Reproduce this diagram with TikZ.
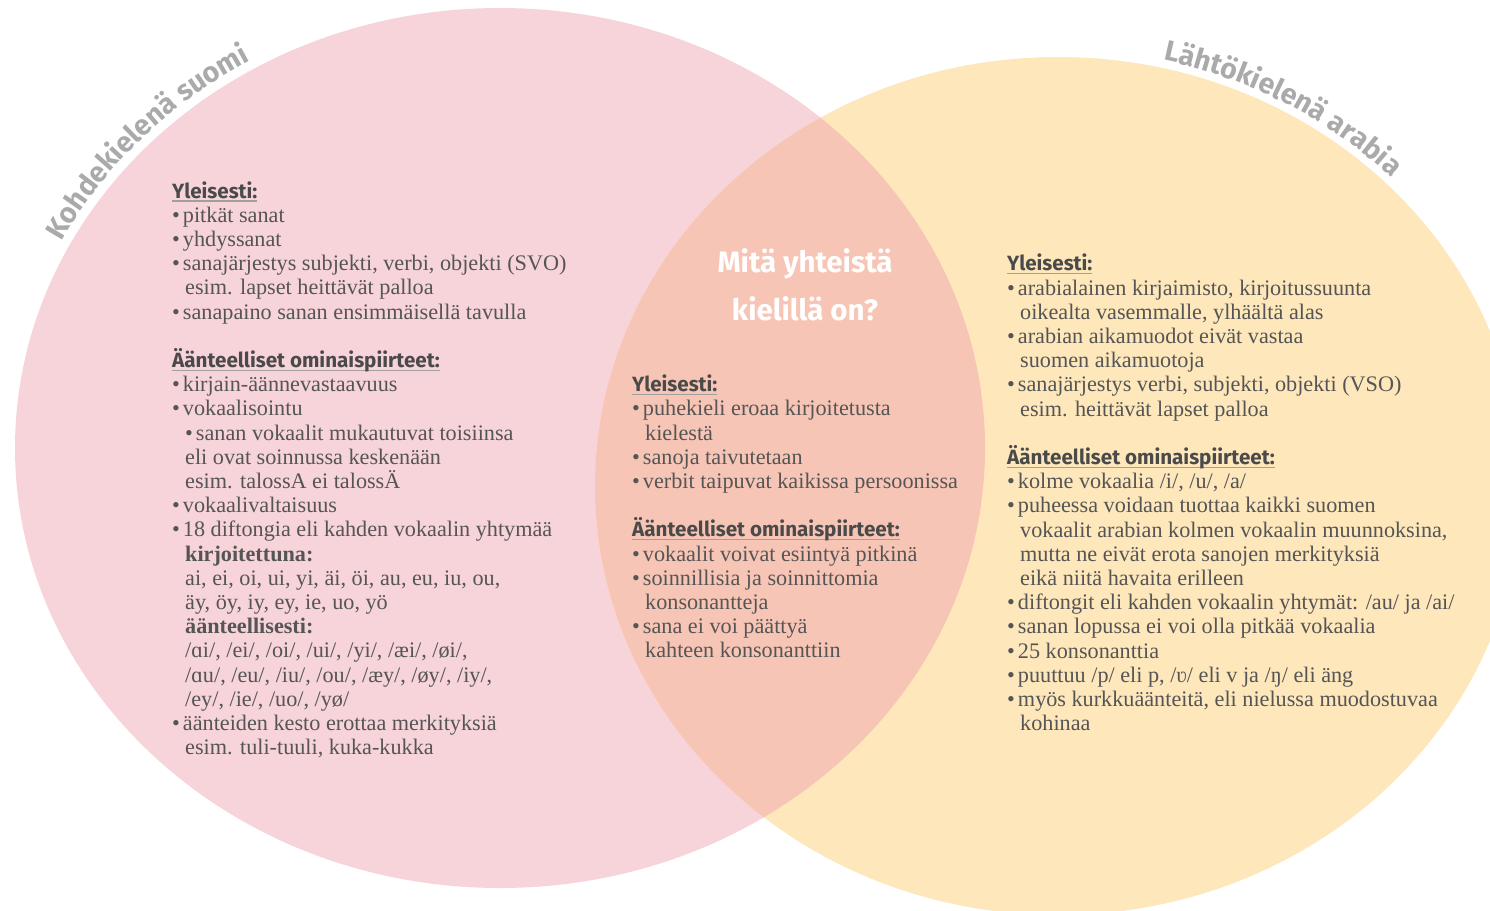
\documentclass[tikz,border=0pt]{standalone}
\usepackage{fontspec}
\setmainfont{Liberation Serif}
\setsansfont{Fira Sans}
\usetikzlibrary{decorations.text}

\definecolor{suomivari}{HTML}{F7D3DA}
\definecolor{arabiavari}{HTML}{FDE7BB}
\definecolor{yhteinenvari}{HTML}{F7C5B5}
\definecolor{tekstiharmaa}{HTML}{555555}
\definecolor{otsikkoharmaa}{HTML}{4A4A4A}
\definecolor{viivaharmaa}{HTML}{A0A0A0}
\definecolor{nimiharmaa}{HTML}{AAAAAA}
\colorlet{kysymysvari}{white}

\newcommand{\otsikko}[1]{\leavevmode{\sffamily\bfseries\fontsize{20.6}{24.2}\selectfont\color{otsikkoharmaa}%
  \setbox0\hbox{#1}\rlap{\color{viivaharmaa}\rule[-3.5pt]{\wd0}{1.1pt}}\box0}}
\newcommand{\kohta}{\textbullet\hspace{3pt}}
\newcommand{\jatko}{\hspace*{13pt}}

\tikzset{
  palsta/.style={anchor=base west, inner sep=0pt, text=tekstiharmaa,
    font=\fontsize{22.2}{24.2}\selectfont},
  nimi/.style={decorate, decoration={text along path, text align=center,
    text color=nimiharmaa,
    text={|\sffamily\bfseries\fontsize{28.5}{28.5}\selectfont|#1}}}
}

\begin{document}
\begin{tikzpicture}[x=1pt, y=-1pt]
        \useasboundingbox (0,0) rectangle (1490,910);

        % ympyrat
        \fill[suomivari] (500,448) ellipse [x radius=485pt, y radius=440pt];
        \fill[arabiavari] (1058,486) ellipse [x radius=463pt, y radius=429pt];
        \begin{scope}
            \clip (500,448) ellipse [x radius=485pt, y radius=440pt];
            \fill[yhteinenvari] (1058,486) ellipse [x radius=463pt, y radius=429pt];
        \end{scope}

        % kaarevat nimet
        \path[nimi={Kohdekielenä suomi}] ([shift={(500,448)}]153:494pt and 449pt)
            arc [start angle=153, end angle=120, x radius=494pt, y radius=449pt];
        \path[nimi={Lähtökielenä arabia}] ([shift={(1058,486)}]78:471pt and 437pt)
            arc [start angle=78, end angle=44, x radius=471pt, y radius=437pt];

        \node (kysymys) [inner sep=0pt, anchor=north, align=center, text=kysymysvari,
            font=\sffamily\bfseries\fontsize{29.5}{48}\selectfont] at (805,248)
            {Mitä yhteistä\\kielillä on?};

        \node (suomi) [palsta] at (172,198) {\begin{minipage}[t]{480pt}
                \otsikko{Yleisesti:}\\
                \kohta pitkät sanat\\
                \kohta yhdyssanat\\
                \kohta sanajärjestys subjekti, verbi, objekti (SVO)\\
                \jatko esim. lapset heittävät palloa\\
                \kohta sanapaino sanan ensimmäisellä tavulla\\[24.2pt]
                \otsikko{Äänteelliset ominaispiirteet:}\\
                \kohta kirjain-äännevastaavuus\\
                \kohta vokaalisointu\\
                \jatko\kohta sanan vokaalit mukautuvat toisiinsa\\
                \jatko eli ovat soinnussa keskenään\\
                \jatko esim. talossA ei talossÄ\\
                \kohta vokaalivaltaisuus\\
                \kohta 18 diftongia eli kahden vokaalin yhtymää\\
                \jatko\textbf{kirjoitettuna:}\\
                \jatko ai, ei, oi, ui, yi, äi, öi, au, eu, iu, ou,\\
                \jatko äy, öy, iy, ey, ie, uo, yö\\
                \jatko\textbf{äänteellisesti:}\\
                \jatko /ɑi/, /ei/, /oi/, /ui/, /yi/, /æi/, /øi/,\\
                \jatko /ɑu/, /eu/, /iu/, /ou/, /æy/, /øy/, /iy/,\\
                \jatko /ey/, /ie/, /uo/, /yø/\\
                \kohta äänteiden kesto erottaa merkityksiä\\
                \jatko esim. tuli-tuuli, kuka-kukka
        \end{minipage}};

        \node (yhteinen) [palsta] at (632,391.6) {\begin{minipage}[t]{420pt}
                \otsikko{Yleisesti:}\\
                \kohta puhekieli eroaa kirjoitetusta\\
                \jatko kielestä\\
                \kohta sanoja taivutetaan\\
                \kohta verbit taipuvat kaikissa persoonissa\\[24.2pt]
                \otsikko{Äänteelliset ominaispiirteet:}\\
                \kohta vokaalit voivat esiintyä pitkinä\\
                \kohta soinnillisia ja soinnittomia\\
                \jatko konsonantteja\\
                \kohta sana ei voi päättyä\\
                \jatko kahteen konsonanttiin
        \end{minipage}};

        \node (arabia) [palsta] at (1007,270.8) {\begin{minipage}[t]{560pt}
                \otsikko{Yleisesti:}\\
                \kohta arabialainen kirjaimisto, kirjoitussuunta\\
                \jatko oikealta vasemmalle, ylhäältä alas\\
                \kohta arabian aikamuodot eivät vastaa\\
                \jatko suomen aikamuotoja\\
                \kohta sanajärjestys verbi, subjekti, objekti (VSO)\\
                \jatko esim. heittävät lapset palloa\\[24.2pt]
                \otsikko{Äänteelliset ominaispiirteet:}\\
                \kohta kolme vokaalia /i/, /u/, /a/\\
                \kohta puheessa voidaan tuottaa kaikki suomen\\
                \jatko vokaalit arabian kolmen vokaalin muunnoksina,\\
                \jatko mutta ne eivät erota sanojen merkityksiä\\
                \jatko eikä niitä havaita erilleen\\
                \kohta diftongit eli kahden vokaalin yhtymät: /au/ ja /ai/\\
                \kohta sanan lopussa ei voi olla pitkää vokaalia\\
                \kohta 25 konsonanttia\\
                \kohta puuttuu /p/ eli p, /ʋ/ eli v ja /ŋ/ eli äng\\
                \kohta myös kurkkuäänteitä, eli nielussa muodostuvaa\\
                \jatko kohinaa
        \end{minipage}};
    \end{tikzpicture}
\end{document}
